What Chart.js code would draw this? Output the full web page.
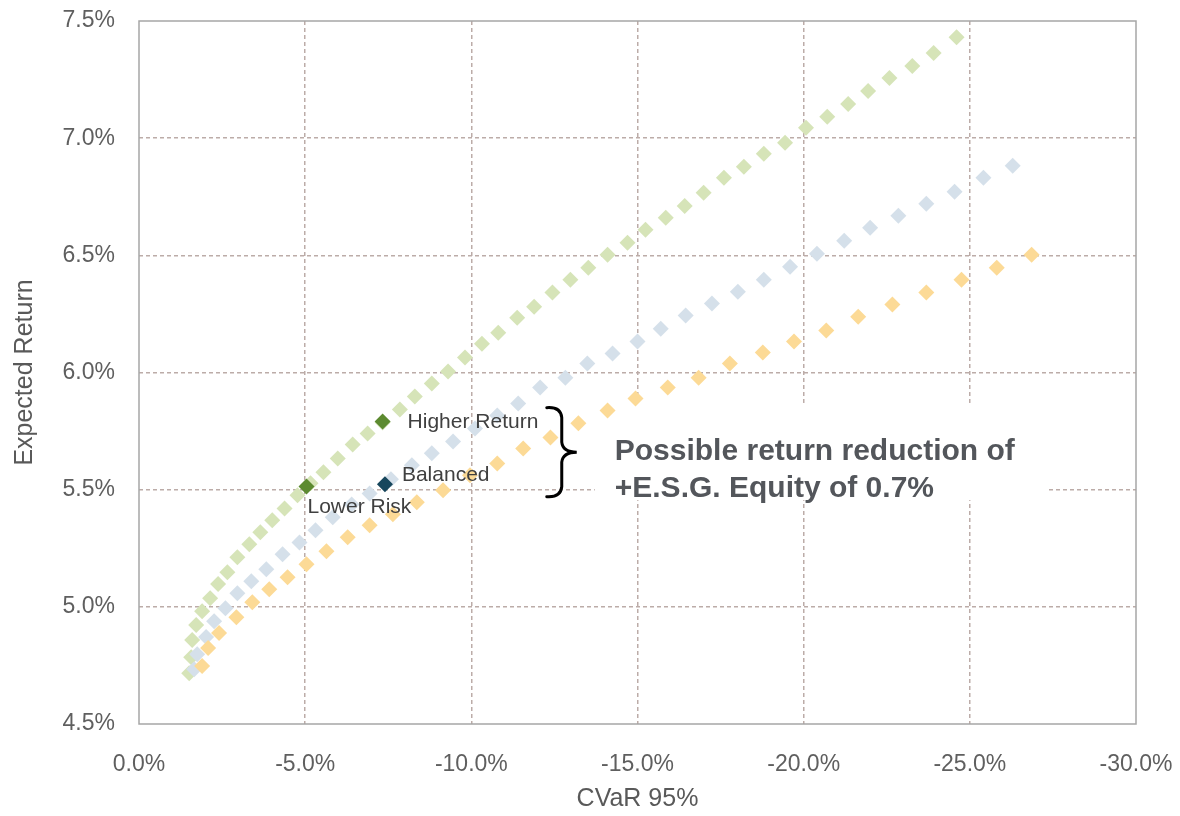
<!DOCTYPE html>
<html>
<head>
<meta charset="utf-8">
<script src="https://cdn.jsdelivr.net/npm/chart.js@4/dist/chart.umd.min.js"></script>
<style>
  html, body { margin: 0; padding: 0; background: #ffffff; }
  #wrap { width: 1180px; height: 816px; }
</style>
</head>
<body>
<div id="wrap"><canvas id="c" width="1180" height="816"></canvas></div>
<script>
// ---- Data (CVaR 95% in %, Expected Return in %) ----
const greenCVaR = [-1.51,-1.57,-1.60,-1.72,-1.90,-2.14,-2.38,-2.66,-2.96,-3.32,-3.65,-4.01,-4.38,-4.77,-5.16,-5.55,-5.98,-6.43,-6.88,-7.33,-7.85,-8.30,-8.81,-9.30,-9.81,-10.32,-10.81,-11.38,-11.89,-12.44,-12.98,-13.52,-14.10,-14.70,-15.24,-15.85,-16.42,-16.99,-17.60,-18.20,-18.80,-19.44,-20.07,-20.71,-21.34,-21.94,-22.58,-23.27,-23.91,-24.60];
const greenReturn = [4.717,4.785,4.858,4.922,4.981,5.037,5.097,5.148,5.212,5.267,5.318,5.369,5.420,5.476,5.527,5.574,5.633,5.693,5.740,5.787,5.842,5.898,5.953,6.004,6.064,6.123,6.170,6.234,6.281,6.341,6.396,6.447,6.503,6.554,6.609,6.660,6.711,6.767,6.831,6.878,6.933,6.980,7.044,7.091,7.146,7.201,7.257,7.308,7.363,7.431];

const blueCVaR = [-1.66,-1.75,-2.02,-2.26,-2.60,-2.96,-3.38,-3.83,-4.32,-4.83,-5.31,-5.83,-6.40,-6.94,-7.58,-8.21,-8.81,-9.45,-10.11,-10.78,-11.41,-12.07,-12.83,-13.49,-14.25,-15.00,-15.70,-16.45,-17.24,-18.02,-18.80,-19.59,-20.40,-21.22,-22.00,-22.85,-23.69,-24.54,-25.41,-26.29];
const blueReturn = [4.734,4.798,4.871,4.939,4.994,5.058,5.109,5.160,5.224,5.275,5.327,5.382,5.437,5.484,5.544,5.604,5.655,5.706,5.761,5.817,5.868,5.936,5.978,6.038,6.081,6.132,6.187,6.243,6.294,6.345,6.396,6.451,6.507,6.562,6.618,6.669,6.720,6.771,6.831,6.882];

const orangeCVaR = [-1.90,-2.08,-2.41,-2.93,-3.41,-3.92,-4.47,-5.04,-5.64,-6.28,-6.94,-7.64,-8.36,-9.15,-9.96,-10.78,-11.56,-12.38,-13.22,-14.10,-14.94,-15.91,-16.84,-17.78,-18.77,-19.71,-20.68,-21.64,-22.67,-23.69,-24.75,-25.81,-26.86];
const orangeReturn = [4.747,4.824,4.888,4.956,5.020,5.075,5.126,5.182,5.237,5.297,5.348,5.395,5.446,5.497,5.561,5.612,5.676,5.723,5.783,5.838,5.889,5.936,5.978,6.038,6.085,6.132,6.179,6.238,6.290,6.341,6.396,6.447,6.503];

const portfolioNames = ["Lower Risk", "Higher Return", "Balanced"];
const portfolioCVaR = [-5.04, -7.33, -7.40];
const portfolioReturn = [5.514, 5.791, 5.523];

const xTicks = [0, -5, -10, -15, -20, -25, -30];
const yTicks = [4.5, 5.0, 5.5, 6.0, 6.5, 7.0, 7.5];

const noteLines = ["Possible return reduction of", "+E.S.G. Equity of 0.7%"];
// brace spans the gap between the two frontiers (value units)
const braceCVaR = -12.45;
const braceTop = 5.85;
const braceBottom = 5.47;

const toPts = (xs, ys) => xs.map((x, i) => ({ x: x, y: ys[i] }));

const tickFont = { family: "'Liberation Sans', Arial, sans-serif", size: 23 };
const titleFont = { family: "'Liberation Sans', Arial, sans-serif", size: 25 };
const labelFontPx = 21;

const overlayPlugin = {
  id: 'overlay',
  beforeDatasetsDraw(chart) {
    const { ctx, chartArea: a, scales } = chart;
    const xs = scales.x, ys = scales.y;
    ctx.save();
    // white note box (hides grid)
    const bx0 = xs.getPixelForValue(braceCVaR) + 42;
    const bx1 = xs.getPixelForValue(-27.3);
    const by0 = ys.getPixelForValue(5.87);
    const by1 = ys.getPixelForValue(5.455);
    ctx.fillStyle = '#ffffff';
    ctx.fillRect(bx0, by0, bx1 - bx0, by1 - by0);
    // plot frame
    ctx.strokeStyle = '#a6a6a6';
    ctx.lineWidth = 1.5;
    ctx.strokeRect(a.left, a.top, a.right - a.left, a.bottom - a.top);
    ctx.restore();
  },
  afterDatasetsDraw(chart) {
    const { ctx, scales } = chart;
    const xs = scales.x, ys = scales.y;
    ctx.save();
    // portfolio labels
    ctx.font = labelFontPx + "px 'Liberation Sans', Arial, sans-serif";
    ctx.fillStyle = '#404040';
    ctx.textBaseline = 'middle';
    ctx.textAlign = 'left';
    const offs = { "Lower Risk": [1, 21], "Higher Return": [25, 1], "Balanced": [17, -9] };
    portfolioNames.forEach((n, i) => {
      const px = xs.getPixelForValue(portfolioCVaR[i]);
      const py = ys.getPixelForValue(portfolioReturn[i]);
      ctx.fillText(n, px + offs[n][0], py + offs[n][1]);
    });
    // brace
    const bx = xs.getPixelForValue(braceCVaR);
    const t = ys.getPixelForValue(braceTop);
    const b = ys.getPixelForValue(braceBottom);
    const m = (t + b) / 2;
    ctx.strokeStyle = '#000000';
    ctx.lineWidth = 3;
    ctx.lineCap = 'round';
    ctx.beginPath();
    ctx.moveTo(bx - 6, t);
    ctx.quadraticCurveTo(bx + 8, t - 1, bx + 9, t + 10);
    ctx.lineTo(bx + 9, m - 10);
    ctx.quadraticCurveTo(bx + 10, m, bx + 24, m);
    ctx.quadraticCurveTo(bx + 10, m, bx + 9, m + 10);
    ctx.lineTo(bx + 9, b - 10);
    ctx.quadraticCurveTo(bx + 8, b + 1, bx - 6, b);
    ctx.stroke();
    // note
    ctx.font = "bold 30px 'Liberation Sans', Arial, sans-serif";
    ctx.fillStyle = '#53565b';
    ctx.textBaseline = 'alphabetic';
    ctx.fillText(noteLines[0], bx + 62, m + 8);
    ctx.fillText(noteLines[1], bx + 62, m + 45);
    ctx.restore();
  }
};

const pctLabel = v => Number(v).toFixed(1) + '%';
const noPad = s => { s.paddingTop = 0; s.paddingBottom = 0; s.paddingLeft = 0; s.paddingRight = 0; };

new Chart(document.getElementById('c'), {
  type: 'scatter',
  data: {
    datasets: [
      { label: 'Portfolios', data: toPts(portfolioCVaR, portfolioReturn),
        backgroundColor: ['#5c8a30', '#5c8a30', '#17465c'], pointStyle: 'rectRot', pointRadius: 8, pointBorderWidth: 0 },
      { label: 'Orange', data: toPts(orangeCVaR, orangeReturn),
        backgroundColor: '#fcda96', pointStyle: 'rectRot', pointRadius: 8, pointBorderWidth: 0 },
      { label: 'Blue', data: toPts(blueCVaR, blueReturn),
        backgroundColor: '#d5e0ea', pointStyle: 'rectRot', pointRadius: 8, pointBorderWidth: 0 },
      { label: 'Green', data: toPts(greenCVaR, greenReturn),
        backgroundColor: '#d6e4b8', pointStyle: 'rectRot', pointRadius: 8, pointBorderWidth: 0 }
    ]
  },
  options: {
    responsive: false,
    animation: false,
    events: [],
    layout: { padding: { top: 21, right: 44, left: 0, bottom: 0 } },
    plugins: { legend: { display: false }, tooltip: { enabled: false } },
    scales: {
      x: {
        type: 'linear', min: -30, max: 0, reverse: true,
        afterBuildTicks: s => { s.ticks = xTicks.map(v => ({ value: v })); },
        afterFit: s => { s.height = 92; noPad(s); },
        ticks: { callback: pctLabel, font: tickFont, color: '#5f5f5f', padding: 27, maxRotation: 0 },
        grid: { drawTicks: false, lineWidth: 1.5,
          color: c => (c.tick && (c.tick.value === 0 || c.tick.value === -30)) ? 'rgba(0,0,0,0)' : '#bcaca8' },
        border: { display: false, dash: [4, 3] },
        title: { display: true, text: 'CVaR 95%', font: titleFont, color: '#595959', padding: { top: 0, bottom: 2 } }
      },
      y: {
        type: 'linear', min: 4.5, max: 7.5,
        afterBuildTicks: s => { s.ticks = yTicks.map(v => ({ value: v })); },
        afterFit: s => { s.width = 139; noPad(s); },
        ticks: { callback: pctLabel, font: tickFont, color: '#5f5f5f', padding: 24 },
        grid: { drawTicks: false, lineWidth: 1.5,
          color: c => (c.tick && (c.tick.value === 4.5 || c.tick.value === 7.5)) ? 'rgba(0,0,0,0)' : '#bcaca8' },
        border: { display: false, dash: [4, 3] },
        title: { display: true, text: 'Expected Return', font: titleFont, color: '#595959', padding: { top: 10, bottom: 0 } }
      }
    }
  },
  plugins: [overlayPlugin]
});
</script>
</body>
</html>
